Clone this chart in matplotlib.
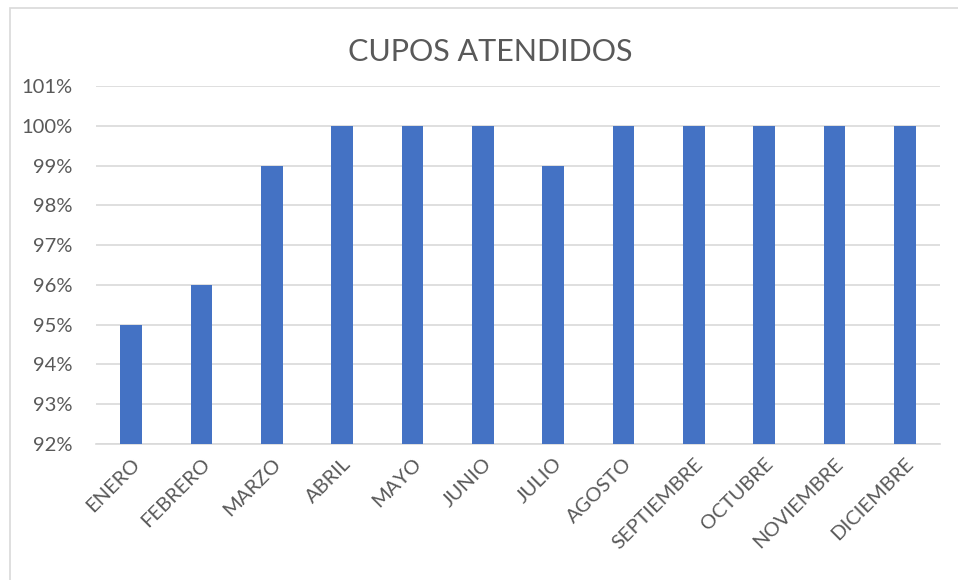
import matplotlib
matplotlib.use("Agg")
import matplotlib.pyplot as plt
from matplotlib.ticker import FuncFormatter, MultipleLocator
from matplotlib.patches import Rectangle

months = ["ENERO", "FEBRERO", "MARZO", "ABRIL", "MAYO", "JUNIO", "JULIO",
          "AGOSTO", "SEPTIEMBRE", "OCTUBRE", "NOVIEMBRE", "DICIEMBRE"]
values = [95, 96, 99, 100, 100, 100, 99, 100, 100, 100, 100, 100]
title = "CUPOS ATENDIDOS"

plt.rcParams['font.family'] = ['Lato', 'DejaVu Sans']
text_color = "#595959"
bar_color = "#4472C4"
grid_color = "#D9D9D9"

fig = plt.figure(figsize=(9.58, 5.8), dpi=100)
ax = fig.add_axes([96/958, 1-444/580, (940-96)/958, (444-86)/580])

x = range(len(months))
ax.bar(x, values, width=0.31, color=bar_color, zorder=3)
ax.set_xlim(-0.5, len(months)-0.5)
ax.set_ylim(92, 101)
ax.yaxis.set_major_locator(MultipleLocator(1))
ax.yaxis.set_major_formatter(FuncFormatter(lambda v, p: f"{v:.0f}%"))
ax.grid(axis='y', color=grid_color, linewidth=1.2, zorder=0)
ax.set_axisbelow(True)
for s in ['top', 'right', 'left']:
    ax.spines[s].set_visible(False)
ax.spines['bottom'].set_color(grid_color)
ax.spines['bottom'].set_linewidth(1.2)
ax.tick_params(axis='both', length=0, labelsize=14.5, colors=text_color)
ax.tick_params(axis='y', pad=17)
ax.set_xticks(list(x))
ax.set_xticklabels(months, rotation=45, ha='right', rotation_mode='anchor')
ax.tick_params(axis='x', pad=8)

fig.text(490/958, 1-52/580, title, ha='center', va='center', fontsize=22, color=text_color)

fig.patches.append(Rectangle((10/958, -0.1), 1.1, 1-8/580+0.1, transform=fig.transFigure,
                             fill=False, edgecolor="#D9D9D9", linewidth=1.2))

fig.savefig("out.png", dpi=100)
